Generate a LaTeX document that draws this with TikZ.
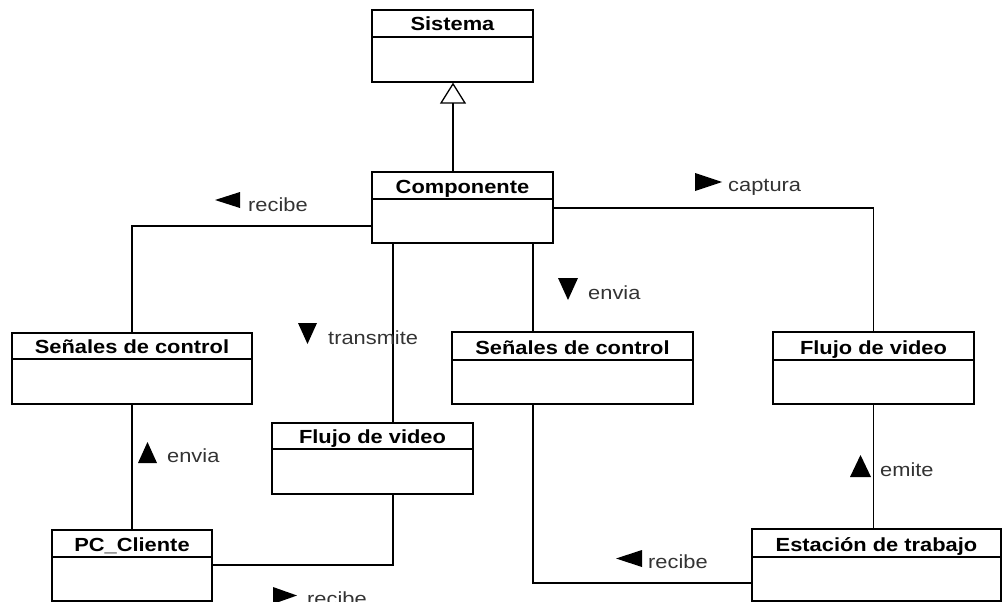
\documentclass[tikz,border=0pt]{standalone}
\usepackage{fontspec}
\setmainfont{Liberation Sans}[FakeStretch=1.15]
\usetikzlibrary{arrows.meta}
\tikzset{
  classbox/.style={draw, line width=1.3pt, inner sep=0pt, fill=white},
  clsname/.style={anchor=base, inner sep=0pt, font=\fontsize{19}{22}\selectfont\bfseries},
  lbl/.style={anchor=base west, inner sep=0pt, font=\fontsize{19}{22}\selectfont, text=black!80},
  assoc/.style={line width=1.3pt},
  gen/.style={line width=1.3pt, -{Triangle[open, width=26pt, length=21pt, line width=1.3pt]}},
  dirmark/.style={fill=black},
}
\newcommand\umlclass[7]{%
  \node[classbox, minimum width={(#4-#2)*1pt}, minimum height={(#5-#3)*1pt}] (#1) at ({(#2+#4)/2},{(#3+#5)/2}) {};
  \draw[line width=1.3pt] (#1.west |- 0,#6) -- (#1.east |- 0,#6);
  \node[clsname] (#1-name) at ({(#2+#4)/2},{#6-6}) {#7};
}
\begin{document}
\begin{tikzpicture}[x=1pt,y=-1pt]
\useasboundingbox (0,0) rectangle (1002,602);
% classes
\umlclass{sis}{372}{10}{533}{82}{37}{Sistema}
\umlclass{comp}{372}{172}{553}{243}{199}{Componente}
\umlclass{sc1}{12}{333}{252}{404}{359}{Señales de control}
\umlclass{sc2}{452}{332}{693}{404}{360}{Señales de control}
\umlclass{fv1}{272}{423}{473}{494}{449}{Flujo de video}
\umlclass{fv2}{773}{332}{974}{404}{360}{Flujo de video}
\umlclass{pc}{52}{530}{212}{601}{557}{PC\_Cliente}
\umlclass{est}{752}{529}{1001}{601}{557}{Estación de trabajo}
% connectors
\draw[gen] (comp.north -| 453,0) -- (sis.south -| 453,0);
\draw[assoc] (sc1.north) |- (comp.west |- 0,226);
\draw[assoc] (comp.south -| 393,0) -- (fv1.north -| 393,0);
\draw[assoc] (fv1.south -| 393,0) |- (pc.east |- 0,565);
\draw[assoc] (sc1.south) -- (pc.north);
\draw[assoc] (comp.south -| 533,0) -- (sc2.north -| 533,0);
\draw[assoc] (sc2.south -| 533,0) |- (est.west |- 0,583);
\draw[assoc] (comp.east |- 0,208) -| (fv2.north);
\draw[assoc] (fv2.south) -- (est.north -| fv2.south);
% direction marks
\fill[dirmark] (240,192) -- (240,208) -- (215,200) -- cycle;
\fill[dirmark] (695,173) -- (695,191) -- (722,182) -- cycle;
\fill[dirmark] (298,323) -- (317,323) -- (307.5,344) -- cycle;
\fill[dirmark] (558,278) -- (578,278) -- (568,300) -- cycle;
\fill[dirmark] (138,463) -- (157,463) -- (147.5,442) -- cycle;
\fill[dirmark] (850,477) -- (871,477) -- (860.5,455) -- cycle;
\fill[dirmark] (642,550) -- (642,567) -- (616,558.5) -- cycle;
\fill[dirmark] (273,587) -- (273,604) -- (297,595.5) -- cycle;
% labels
\node[lbl] (l1) at (248,211) {recibe};
\node[lbl] (l2) at (728,191) {captura};
\node[lbl] (l3) at (328,344) {transmite};
\node[lbl] (l4) at (588,299) {envia};
\node[lbl] (l5) at (167,462) {envia};
\node[lbl] (l6) at (880,476) {emite};
\node[lbl] (l7) at (648,568) {recibe};
\node[lbl] (l8) at (307,605) {recibe};
\end{tikzpicture}
\end{document}
